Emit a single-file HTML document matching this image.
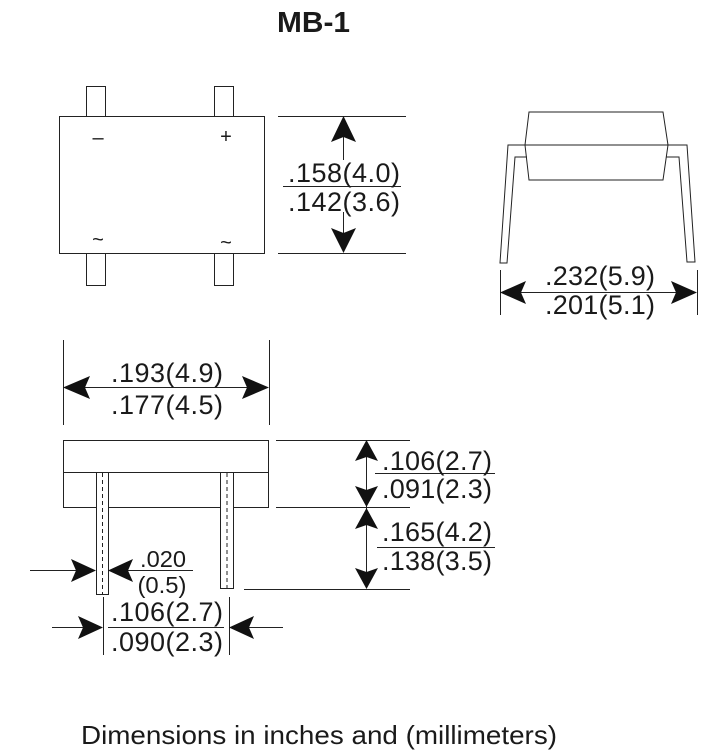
<!DOCTYPE html>
<html><head><style>html,body{margin:0;padding:0;background:#fff}svg{display:block}</style></head>
<body>
<svg width="727" height="752" viewBox="0 0 727 752" xmlns="http://www.w3.org/2000/svg" font-family="Liberation Sans, sans-serif" fill="#1a1a1a">
<g stroke="#222" stroke-width="1" fill="none">
<rect x="59.5" y="116.5" width="205" height="137"/>
<rect x="86.5" y="86.5" width="19" height="30"/>
<rect x="214.5" y="86.5" width="19" height="30"/>
<rect x="86.5" y="253.5" width="19" height="32"/>
<rect x="214.5" y="253.5" width="19" height="32"/>
<line x1="278" y1="116.5" x2="406" y2="116.5"/>
<line x1="278" y1="253.5" x2="406" y2="253.5"/>
<line x1="343.5" y1="135" x2="343.5" y2="160"/>
<line x1="343.5" y1="212" x2="343.5" y2="235"/>
<line x1="283" y1="186.5" x2="401" y2="186.5"/>
<polygon points="529,112 663,112 668,145 663,180 529,180 525,145"/>
<line x1="525" y1="145" x2="668" y2="145"/>
<polyline points="525,145 508,145 500,263 507,263 515,157 527,157"/>
<polyline points="668,145 687,145 695,262 687,262 679,157 666,157"/>
<line x1="500.5" y1="270" x2="500.5" y2="315"/>
<line x1="697.5" y1="270" x2="697.5" y2="315"/>
<line x1="520" y1="292.5" x2="680" y2="292.5"/>
<line x1="63.5" y1="340" x2="63.5" y2="425"/>
<line x1="269.5" y1="340" x2="269.5" y2="425"/>
<line x1="80" y1="387.5" x2="255" y2="387.5"/>
<rect x="63.5" y="440.5" width="205" height="67"/>
<line x1="63" y1="472.5" x2="268" y2="472.5"/>
<rect x="96.5" y="472.5" width="12" height="122" fill="#fff"/>
<rect x="220.5" y="472.5" width="13" height="116" fill="#fff"/>
<line x1="102.5" y1="473" x2="102.5" y2="594" stroke-dasharray="4,3"/>
<line x1="227" y1="473" x2="227" y2="588" stroke-dasharray="4,3"/>
<line x1="276" y1="440.5" x2="410" y2="440.5"/>
<line x1="276" y1="507.5" x2="410" y2="507.5"/>
<line x1="244" y1="589.5" x2="410" y2="589.5"/>
<line x1="366.5" y1="455" x2="366.5" y2="575"/>
<line x1="375" y1="473.5" x2="495" y2="473.5"/>
<line x1="377" y1="547.5" x2="495" y2="547.5"/>
<line x1="30" y1="570.5" x2="85" y2="570.5"/>
<line x1="118" y1="570.5" x2="193" y2="570.5"/>
<line x1="103.5" y1="597" x2="103.5" y2="655"/>
<line x1="229.5" y1="597" x2="229.5" y2="655"/>
<line x1="52" y1="627.5" x2="92" y2="627.5"/>
<line x1="108" y1="627.5" x2="224" y2="627.5"/>
<line x1="240" y1="627.5" x2="283" y2="627.5"/>
</g>
<g fill="#111">
<polygon points="343.5,116 331,142 343.5,137 356,142"/>
<polygon points="343.5,253 331,228 343.5,233 356,228"/>
<polygon points="500,292.5 526,281 521,292.5 526,304"/>
<polygon points="697,292.5 671,281 676,292.5 671,304"/>
<polygon points="63,387.5 90,376 85,387.5 90,399"/>
<polygon points="269,387.5 242,376 247,387.5 242,399"/>
<polygon points="366.5,440 355,461 366.5,457 378,461"/>
<polygon points="366.5,507 355,486 366.5,490 378,486"/>
<polygon points="366.5,508 355,529 366.5,525 378,529"/>
<polygon points="366.5,589 355,568 366.5,572 378,568"/>
<polygon points="96,570.5 71,559 76,570.5 71,582"/>
<polygon points="108,570.5 133,559 128,570.5 133,582"/>
<polygon points="103,627.5 78,616 83,627.5 78,639"/>
<polygon points="229,627.5 254,616 249,627.5 254,639"/>
</g>
<g font-size="27" text-anchor="middle" lengthAdjust="spacingAndGlyphs">
<text x="344" y="182" textLength="112">.158(4.0)</text>
<text x="344" y="211" textLength="112">.142(3.6)</text>
<text x="600" y="285" textLength="110">.232(5.9)</text>
<text x="600" y="314" textLength="110">.201(5.1)</text>
<text x="167" y="382" textLength="112">.193(4.9)</text>
<text x="167" y="414" textLength="112">.177(4.5)</text>
<text x="437" y="470" textLength="110">.106(2.7)</text>
<text x="437" y="498" textLength="110">.091(2.3)</text>
<text x="437" y="541" textLength="110">.165(4.2)</text>
<text x="437" y="570" textLength="110">.138(3.5)</text>
<text x="167" y="621" textLength="112">.106(2.7)</text>
<text x="167" y="651" textLength="112">.090(2.3)</text>
</g>
<g font-size="23" text-anchor="middle">
<text x="163" y="567" textLength="46" lengthAdjust="spacingAndGlyphs">.020</text>
<text x="162" y="593" textLength="49" lengthAdjust="spacingAndGlyphs">(0.5)</text>
</g>
<g font-size="20" text-anchor="middle">
<text x="98" y="144">–</text>
<text x="226" y="143">+</text>
<text x="98" y="246">~</text>
<text x="226" y="249">~</text>
</g>
<text x="313.5" y="32" font-size="29" font-weight="bold" text-anchor="middle" textLength="73" lengthAdjust="spacingAndGlyphs">MB-1</text>
<text x="81" y="744" font-size="26" textLength="476" lengthAdjust="spacingAndGlyphs">Dimensions in inches and (millimeters)</text>
</svg>
</body></html>
